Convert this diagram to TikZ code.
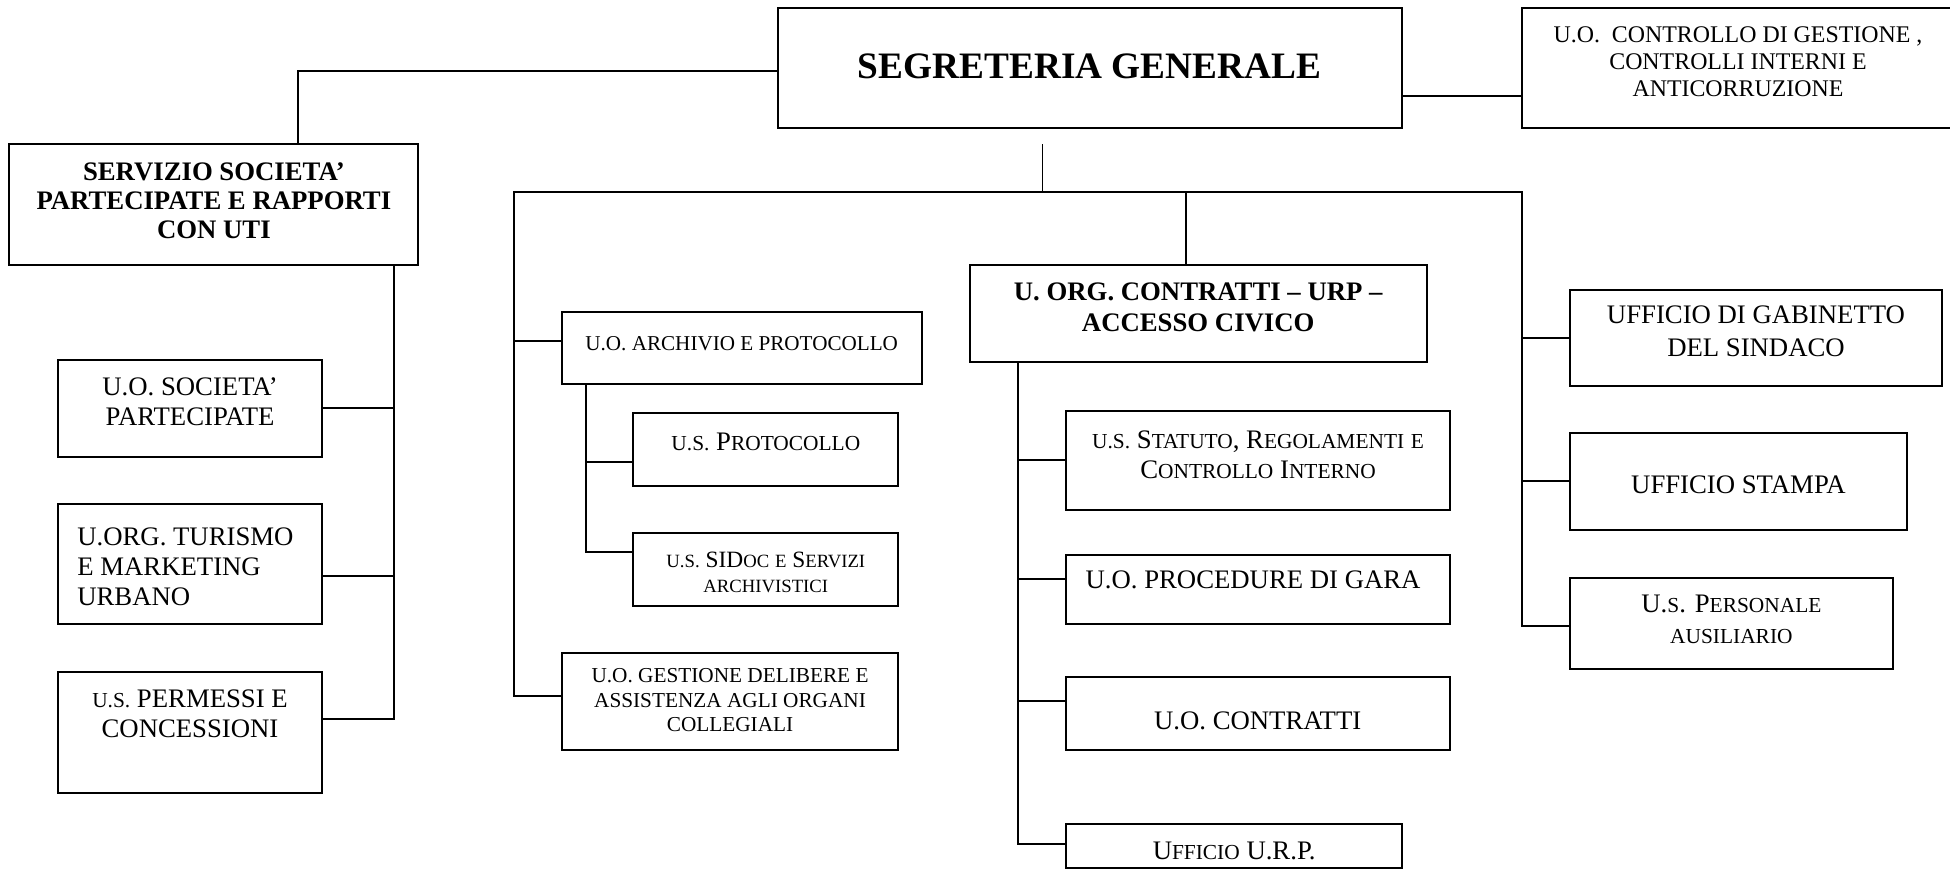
\documentclass[tikz,border=0pt]{standalone}
\usepackage{fontspec}
\setmainfont{Liberation Serif}
\usetikzlibrary{fit}
\newcommand\smc[1]{\scalebox{0.8}{#1}}
\newcommand\fs[2]{\fontsize{#1}{#2}\selectfont}
\newcommand\branch[3]{\coordinate (tmpy) at (0,#3); \draw[conn] (#1 |- tmpy) -- (#2 |- tmpy);}
\begin{document}
\begin{tikzpicture}[x=1pt,y=-1pt,
 box/.style={draw, line width=1.6pt, inner sep=0pt},
 conn/.style={line width=1.6pt, line cap=rect},
 thinconn/.style={line width=1.1pt},
 txt/.style={inner sep=0pt, align=center},
 reg/.style={font=\fs{21.5}{24}},
]
\useasboundingbox (0,0) rectangle (1568,698.8);
\clip (0,0) rectangle (1568,698.8);

% ---- boxes ----
\node[box, fit={(625.3,6.7) (1127,103.2)}] (seg) {};
\node[box, fit={(1224.1,6.7) (1575,103.2)}] (ctrl) {};
\node[box, fit={(7.5,115.8) (336.4,213.1)}] (serv) {};
\node[box, fit={(46.4,289.5) (259.2,367.2)}] (soc) {};
\node[box, fit={(46.4,405.3) (259.2,502)}] (tur) {};
\node[box, fit={(46.4,540.6) (259.2,637.4)}] (perm) {};
\node[box, fit={(451.7,251.1) (741.6,309.1)}] (arch) {};
\node[box, fit={(509.3,332.4) (722.3,390.5)}] (prot) {};
\node[box, fit={(509.3,428.9) (722.3,487)}] (sidoc) {};
\node[box, fit={(451.7,525.4) (722.3,603.1)}] (delib) {};
\node[box, fit={(779.7,212.7) (1147.2,291.3)}] (uorg) {};
\node[box, fit={(857.2,330.7) (1166,409.8)}] (stat) {};
\node[box, fit={(857.2,446) (1166,501.4)}] (proc) {};
\node[box, fit={(857.2,544) (1166,603.3)}] (contr) {};
\node[box, fit={(857.2,662.3) (1127.5,698.2)}] (urp) {};
\node[box, fit={(1262.5,233.2) (1561.8,310.1)}] (gab) {};
\node[box, fit={(1262.5,348.4) (1533.2,426.2)}] (stamp) {};
\node[box, fit={(1262.5,464.5) (1522,538.2)}] (pers) {};

% ---- texts ----
\node[txt, anchor=base, font=\fs{30}{34}\bfseries] (segT) at (876.2,63.5) {SEGRETERIA GENERALE};
\node[txt, anchor=north, font=\fs{19.2}{21.5}] (ctrlT) at (1397.5,21.4) {U.O.\ \ CONTROLLO DI GESTIONE ,\\CONTROLLI INTERNI E\\ANTICORRUZIONE};
\node[txt, anchor=north, font=\fs{21.5}{23.3}\bfseries] (servT) at (172,131) {SERVIZIO SOCIETA’\\PARTECIPATE E RAPPORTI\\CON UTI};
\node[txt, anchor=north, font=\fs{21.5}{24.5}] (socT) at (152.8,303.5) {U.O. SOCIETA’\\PARTECIPATE};
\node[txt, anchor=north west, align=left, font=\fs{21.5}{24.2}] (turT) at (62,424) {U.ORG. TURISMO\\E MARKETING\\URBANO};
\node[txt, anchor=north, font=\fs{21.5}{24.1}] (permT) at (152.8,554.8) {\smc{U.S.} PERMESSI E\\CONCESSIONI};
\node[txt, anchor=base, font=\fs{17}{19}] (archT) at (596.4,282.2) {U.O. ARCHIVIO E PROTOCOLLO};
\node[txt, anchor=base, reg] (protT) at (615.8,362.2) {\smc{U.S.} P\smc{ROTOCOLLO}};
\node[txt, anchor=north, font=\fs{18.8}{20.2}] (sidocT) at (615.8,443.7) {\smc{U.S.} SID\smc{OC} \smc{E} S\smc{ERVIZI}\\\smc{ARCHIVISTICI}};
\node[txt, anchor=north, font=\fs{17.1}{19.7}] (delibT) at (587,537.6) {U.O. GESTIONE DELIBERE E\\ASSISTENZA AGLI ORGANI\\COLLEGIALI};
\node[txt, anchor=north, font=\fs{21.5}{24.5}\bfseries] (uorgT) at (963.5,227.3) {U. ORG. CONTRATTI – URP –\\ACCESSO CIVICO};
\node[txt, anchor=north, font=\fs{21.5}{24.4}] (statT) at (1011.6,345.8) {\smc{U.S.} S\smc{TATUTO}, R\smc{EGOLAMENTI} \smc{E}\\C\smc{ONTROLLO} I\smc{NTERNO}};
\node[txt, anchor=base, reg] (procT) at (1007.6,473) {U.O. PROCEDURE DI GARA};
\node[txt, anchor=base, reg] (contrT) at (1011.3,586.4) {U.O. CONTRATTI};
\node[txt, anchor=base, reg] (urpT) at (992.4,690.8) {U\smc{FFICIO} U.R.P.};
\node[txt, anchor=north, font=\fs{21.5}{26.3}] (gabT) at (1412,245.8) {UFFICIO DI GABINETTO\\DEL SINDACO};
\node[txt, anchor=base, reg] (stampT) at (1397.9,397) {UFFICIO STAMPA};
\node[txt, anchor=north, font=\fs{21.5}{24.9}] (persT) at (1392.2,478.2) {U.\smc{S}. P\smc{ERSONALE}\\\smc{AUSILIARIO}};

% ---- connectors ----
\coordinate (y1) at (0,57.1);
\coordinate (x1) at (239.4,0);
\draw[conn] (seg.west |- y1) -| (x1 |- serv.north);
\coordinate (y2) at (0,76.9);
\draw[conn] (seg.east |- y2) -- (ctrl.west |- y2);

\coordinate (stemT) at (838.2,115.8);
\coordinate (busC) at (838.2,154.1);
\coordinate (busL) at (413.3,154.1);
\coordinate (busR) at (1224.1,154.1);
\coordinate (busM) at (953.7,154.1);
\draw[thinconn] (stemT) -- (busC);
\draw[conn] (busL) -- (busR);
\draw[thinconn] (busM) -- (busM |- uorg.north);

% left bus branch
\coordinate (busLe) at (413.3,559.7);
\draw[conn] (busL) -- (busLe);
\branch{busL}{arch.west}{274.2}
\branch{busL}{delib.west}{559.7}

% archive sub-branch
\coordinate (spA) at (471.2,0);
\coordinate (spAe) at (471.2,444.1);
\draw[conn] (spA |- arch.south) -- (spAe);
\branch{spA}{prot.west}{371.2}
\branch{spA}{sidoc.west}{444.1}

% servizio branch
\coordinate (spS) at (317.1,0);
\coordinate (spSe) at (317.1,578.4);
\draw[conn] (spS |- serv.south) -- (spSe);
\branch{spS}{soc.east}{327.8}
\branch{spS}{tur.east}{462.9}
\branch{spS}{perm.east}{578.4}

% middle branch
\coordinate (spM) at (818.8,0);
\coordinate (spMe) at (818.8,678.7);
\draw[conn] (spM |- uorg.south) -- (spMe);
\branch{spM}{stat.west}{370.1}
\branch{spM}{proc.west}{465.3}
\branch{spM}{contr.west}{563.7}
\branch{spM}{urp.west}{678.7}

% right branch
\coordinate (busRe) at (1224.1,503.4);
\draw[conn] (busR) -- (busRe);
\branch{busR}{gab.west}{271.5}
\branch{busR}{stamp.west}{386.8}
\branch{busR}{pers.west}{503.4}
\end{tikzpicture}
\end{document}
